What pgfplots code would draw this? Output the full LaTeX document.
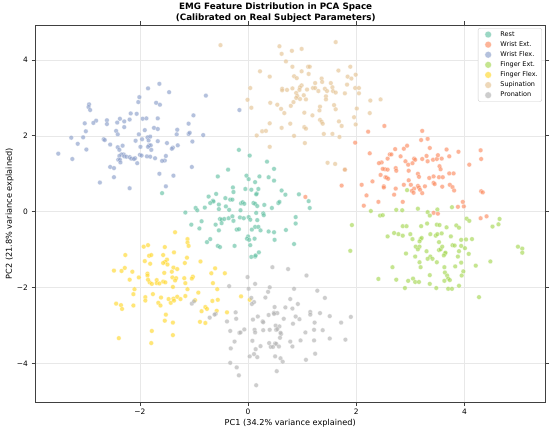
\documentclass[border=0pt]{standalone}
\usepackage{fontspec}
\setmainfont{DejaVu Sans}
\usepackage{pgfplots}
\pgfplotsset{compat=1.18}
\definecolor{cRest}{HTML}{66C2A5}
\definecolor{cWExt}{HTML}{FC8D62}
\definecolor{cWFlex}{HTML}{8DA0CB}
\definecolor{cFExt}{HTML}{A6D854}
\definecolor{cFFlex}{HTML}{FFD92F}
\definecolor{cSup}{HTML}{E5C494}
\definecolor{cPron}{HTML}{B3B3B3}
\pgfplotsset{pt/.style={only marks, mark=*, mark size=2.3bp,
  mark options={fill=#1, draw=white, line width=0.25bp, opacity=0.65}}}
\begin{document}
\begin{tikzpicture}[x=1bp,y=1bp]
\useasboundingbox (0,0) rectangle (550,432);
\fill[white] (0,0) rectangle (550,432);
\begin{axis}[
  at={(35bp,29.7bp)}, anchor=south west,
  scale only axis, width=510.5bp, height=377.3bp,
  xmin=-3.94, xmax=5.50, ymin=-5.02, ymax=4.92,
  xtick={-2,0,2,4}, xticklabels={−2,0,2,4},
  ytick={-4,-2,0,2,4}, yticklabels={−4,−2,0,2,4},
  grid=major, major grid style={black!9, line width=0.6bp},
  axis line style={black!75, line width=0.8bp},
  tick align=outside, major tick length=3.5bp,
  tick style={black!75, line width=0.8bp},
  ticklabel style={font=\fontsize{7.5}{9}\selectfont},
  legend style={at={(0.993,0.992)}, anchor=north east, draw=black!20,
    rounded corners=2bp, font=\fontsize{6.5}{7.5}\selectfont,
    inner xsep=3.5bp, inner ysep=1.3bp, row sep=0pt,
    nodes={inner sep=0.5bp}},
  legend cell align=left,
  legend image code/.code={
    \draw[#1, mark size=3.3bp] plot coordinates {(0bp,0bp)};
    \path[draw=none, fill=none] (-6.5bp,-5.05bp) (11.8bp,5.05bp);
  },
]
% Rest
\addplot[pt=cRest] coordinates {
(-0.17,1.63) (0.03,1.48) (0.35,1.32) (-0.37,1.11) (-0.56,0.93) (-0.03,0.95) (0.01,0.86) (0.21,0.93)
(0.38,0.91) (0.48,1.13) (0.48,0.82) (0.13,0.78) (-0.28,0.64) (-0.27,0.52) (-0.05,0.60) (0.06,0.58)
(0.19,0.60) (0.16,0.48) (0.15,0.46) (0.62,0.56) (0.69,0.45) (0.94,0.46) (1.12,0.28) (1.14,0.10)
(-0.59,0.47) (-0.73,0.40) (-0.65,0.29) (-0.64,0.27) (-0.70,0.23) (-0.54,0.19) (-0.42,0.36) (-0.33,0.32)
(-0.29,0.32) (-0.13,0.22) (-0.10,0.25) (-0.07,0.21) (0.10,0.23) (0.13,0.21) (0.17,0.15) (0.30,0.18)
(0.44,0.10) (0.56,0.23) (0.58,0.26) (-0.80,0.11) (-0.97,0.10) (-0.94,0.04) (-1.16,-0.02) (-0.54,0.07)
(-0.41,0.14) (-0.35,0.05) (-0.14,0.04) (0.15,-0.03) (0.28,-0.04) (0.29,-0.09) (-0.52,-0.19) (-0.49,-0.21)
(-0.44,-0.19) (-0.36,-0.17) (-0.29,-0.12) (-0.27,-0.24) (-0.15,-0.15) (-0.08,-0.17) (0.01,-0.14) (0.04,-0.21)
(0.17,-0.22) (0.88,-0.14) (0.88,-0.31) (-0.86,-0.25) (-1.05,-0.34) (-0.60,-0.34) (-0.49,-0.30) (0.13,-0.40)
(0.19,-0.40) (-0.90,-0.44) (-0.54,-0.49) (-0.21,-0.47) (-0.17,-0.46) (0.07,-0.47) (0.23,-0.49) (0.38,-0.52)
(0.48,-0.54) (0.70,-0.48) (-0.70,-0.72) (-0.76,-0.80) (0.00,-0.65) (-0.02,-0.71) (0.02,-0.74) (0.12,-0.71)
(0.49,-0.74) (-0.56,-0.90) (-0.52,-0.93) (-0.25,-0.90) (0.04,-0.88) (0.85,-0.85) (0.20,-1.07) (0.06,-1.19)
(0.13,-1.18) (0.14,-1.15) (-1.59,0.49)
};
\addlegendentry{Rest}
% Wrist Ext.
\addplot[pt=cWExt] coordinates {
(2.52,2.26) (3.22,2.13) (2.22,2.11) (3.20,1.89) (3.32,1.92) (1.98,1.82) (2.94,1.74) (2.88,1.66)
(2.72,1.65) (3.36,1.68) (3.67,1.64) (3.89,1.58) (4.30,1.62) (4.31,1.39) (2.25,1.54) (2.62,1.51)
(2.65,1.51) (2.82,1.46) (2.58,1.40) (3.07,1.40) (3.09,1.37) (2.91,1.33) (2.96,1.24) (3.04,1.28)
(3.30,1.47) (3.22,1.39) (3.32,1.33) (3.42,1.37) (3.49,1.39) (3.51,1.49) (3.58,1.40) (3.72,1.46)
(3.54,1.20) (3.56,1.12) (4.09,1.24) (2.47,1.30) (2.42,1.28) (2.53,1.12) (2.49,1.13) (2.58,1.11)
(2.73,1.15) (2.74,1.08) (1.79,1.11) (2.45,0.97) (2.54,0.91) (2.56,0.90) (2.59,0.87) (2.97,1.08)
(2.97,0.83) (3.14,1.00) (3.16,0.92) (3.35,0.89) (3.43,0.93) (3.53,0.91) (3.60,0.91) (3.72,1.01)
(3.80,1.01) (2.30,0.80) (1.73,0.69) (2.10,0.71) (2.51,0.67) (2.51,0.64) (2.73,0.61) (2.88,0.71)
(3.01,0.71) (3.07,0.61) (3.14,0.68) (3.16,0.64) (3.18,0.58) (3.27,0.67) (3.43,0.76) (3.45,0.73)
(3.59,0.66) (3.73,0.71) (3.78,0.65) (3.81,0.56) (4.31,0.54) (4.34,0.51) (3.03,0.55) (3.06,0.50)
(3.22,0.49) (2.19,0.43) (2.86,0.26) (2.41,0.26) (2.14,0.16) (3.97,0.26) (3.99,0.14) (3.88,0.13)
(3.43,-0.03) (3.51,-0.05) (4.30,-0.17) (4.41,-0.12) (1.06,0.39) (2.70,0.45)
};
\addlegendentry{Wrist Ext.}
% Wrist Flex.
\addplot[pt=cWFlex] coordinates {
(-1.64,3.37) (-1.85,3.25) (-1.46,3.15) (-0.78,3.06) (-2.94,2.83) (-2.95,2.76) (-2.92,2.68) (-2.01,3.02)
(-2.03,2.89) (-1.70,2.87) (-1.63,2.82) (-2.17,2.59) (-2.06,2.58) (-2.37,2.45) (-2.19,2.43) (-2.29,2.38)
(-2.42,2.35) (-2.61,2.41) (-2.81,2.40) (-2.86,2.34) (-3.02,2.33) (-1.95,2.45) (-1.88,2.46) (-1.67,2.46)
(-1.01,2.54) (-1.10,2.32) (-2.61,2.31) (-2.44,2.13) (-2.29,2.23) (-2.41,2.04) (-3.00,2.12) (-3.05,1.96)
(-3.27,1.95) (-3.15,1.79) (-2.99,1.64) (-3.51,1.53) (-3.25,1.39) (-2.67,1.91) (-2.65,1.89) (-2.55,1.77)
(-2.41,1.70) (-2.32,1.74) (-2.38,1.63) (-2.02,2.04) (-2.08,1.87) (-1.96,1.91) (-1.91,2.15) (-1.74,2.21)
(-1.67,2.18) (-1.86,1.96) (-1.81,1.98) (-1.84,1.88) (-1.83,1.75) (-1.80,1.75) (-1.79,1.63) (-1.85,1.71)
(-1.31,2.16) (-1.32,2.04) (-1.10,2.05) (-1.08,2.08) (-0.83,2.02) (-1.03,1.85) (-1.30,1.75) (-1.39,1.69)
(-1.41,1.66) (-1.50,1.81) (-1.67,1.86) (-1.99,1.71) (-2.30,1.51) (-2.34,1.51) (-2.38,1.47) (-2.40,1.37)
(-2.29,1.46) (-2.25,1.45) (-2.19,1.44) (-2.16,1.40) (-2.09,1.41) (-2.05,1.28) (-2.11,1.39) (-2.00,1.50)
(-1.97,1.48) (-1.87,1.46) (-1.81,1.45) (-1.72,1.41) (-1.52,1.47) (-1.54,1.35) (-1.59,1.34) (-2.55,1.18)
(-2.48,1.15) (-2.37,1.37) (-2.36,1.30) (-1.04,1.18) (-1.64,1.00) (-1.38,0.95) (-2.48,0.91) (-2.74,0.77)
(-2.19,0.62) (-1.52,0.67) (-0.16,2.68)
};
\addlegendentry{Wrist Flex.}
% Finger Ext.
\addplot[pt=cFExt] coordinates {
(2.94,0.57) (2.27,0.02) (2.74,0.05) (2.85,0.04) (3.14,0.08) (3.32,-0.01) (3.50,0.06) (3.77,0.12)
(2.44,-0.10) (2.49,-0.09) (3.36,-0.10) (4.04,-0.18) (4.09,-0.24) (4.65,-0.19) (4.63,-0.33) (4.52,-0.39)
(1.92,-0.35) (2.86,-0.38) (2.93,-0.38) (3.20,-0.38) (3.31,-0.31) (3.49,-0.34) (3.54,-0.35) (3.67,-0.41)
(3.85,-0.36) (3.90,-0.42) (2.70,-0.56) (2.78,-0.59) (2.58,-0.65) (2.86,-0.63) (3.00,-0.59) (3.37,-0.59)
(3.47,-0.63) (3.50,-0.59) (3.58,-0.57) (3.75,-0.65) (3.04,-0.72) (3.19,-0.72) (3.21,-0.69) (3.17,-0.78)
(3.53,-0.80) (3.94,-0.74) (4.03,-0.73) (4.14,-0.72) (3.10,-0.92) (3.17,-0.92) (3.14,-0.99) (3.30,-1.04)
(3.53,-1.01) (3.56,-0.99) (3.59,-0.92) (3.78,-0.88) (3.82,-0.89) (3.94,-0.90) (4.01,-0.96) (3.90,-1.04)
(1.89,-1.03) (2.92,-1.10) (3.09,-1.18) (3.37,-1.18) (3.32,-1.24) (3.41,-1.24) (3.64,-1.10) (3.65,-1.08)
(3.62,-1.15) (3.88,-1.18) (4.08,-1.11) (4.99,-0.92) (5.07,-0.97) (5.07,-1.08) (3.17,-1.33) (3.49,-1.33)
(3.94,-1.34) (4.48,-1.31) (2.67,-1.46) (3.19,-1.46) (3.63,-1.46) (3.83,-1.44) (4.21,-1.42) (3.36,-1.67)
(3.64,-1.60) (3.68,-1.68) (3.70,-1.76) (3.98,-1.57) (3.95,-1.68) (2.41,-1.77) (2.74,-1.79) (2.96,-1.82)
(3.05,-1.76) (3.09,-1.85) (3.16,-1.85) (3.63,-1.82) (3.73,-1.80) (3.36,-1.90) (2.90,-2.01) (3.48,-2.01)
(3.90,-1.95) (3.70,-2.03) (3.77,-2.03) (4.27,-2.25)
};
\addlegendentry{Finger Ext.}
% Finger Flex.
\addplot[pt=cFFlex] coordinates {
(-1.35,-0.54) (-1.12,-0.72) (-1.12,-0.81) (-1.10,-0.90) (-1.93,-0.92) (-1.85,-0.88) (-1.54,-0.93) (-1.37,-1.07)
(-2.27,-1.14) (-1.83,-1.16) (-1.79,-1.14) (-1.57,-1.14) (-1.13,-1.21) (-1.91,-1.30) (-1.81,-1.37) (-1.50,-1.26)
(-1.53,-1.32) (-1.57,-1.35) (-1.49,-1.39) (-1.17,-1.35) (-0.88,-1.31) (-2.48,-1.55) (-2.34,-1.56) (-2.28,-1.48)
(-2.14,-1.58) (-1.38,-1.47) (-1.31,-1.51) (-1.86,-1.63) (-1.86,-1.68) (-1.55,-1.61) (-1.41,-1.58) (-0.61,-1.49)
(-0.43,-1.62) (-0.68,-1.62) (-2.02,-1.73) (-2.19,-1.79) (-1.82,-1.86) (-1.85,-1.79) (-1.69,-1.80) (-1.69,-1.88)
(-1.64,-1.89) (-1.57,-1.84) (-1.53,-1.86) (-1.40,-1.73) (-1.33,-1.75) (-1.35,-1.81) (-1.18,-1.75) (-1.02,-1.71)
(-1.04,-1.76) (-1.78,-1.90) (-1.39,-1.98) (-1.16,-1.88) (-0.65,-1.88) (-1.12,-2.04) (-2.10,-2.04) (-2.12,-2.17)
(-1.76,-2.17) (-1.90,-2.25) (-1.90,-2.34) (-1.61,-2.26) (-1.47,-2.30) (-1.38,-2.29) (-1.31,-2.24) (-1.25,-2.30)
(-1.16,-2.22) (-1.43,-2.40) (-1.37,-2.34) (-1.66,-2.40) (-1.62,-2.47) (-0.92,-2.13) (-0.57,-2.04) (-0.98,-2.33)
(-0.66,-2.35) (-0.56,-2.32) (-0.13,-2.23) (0.03,-2.32) (-2.44,-2.42) (-2.35,-2.46) (-2.33,-2.56) (-2.12,-2.47)
(-0.79,-2.51) (-0.76,-2.56) (-0.86,-2.62) (-0.58,-2.61) (-0.39,-2.65) (-1.52,-2.71) (-1.54,-2.87) (-1.39,-2.92)
(-0.89,-2.90) (-0.79,-2.93) (-1.78,-3.14) (-1.39,-3.25) (-2.39,-3.33) (-1.79,-3.46)
};
\addlegendentry{Finger Flex.}
% Supination
\addplot[pt=cSup] coordinates {
(-0.51,4.39) (0.58,4.36) (0.62,4.16) (0.81,4.24) (0.99,4.29) (1.62,4.47) (0.70,3.96) (0.82,3.82)
(1.11,3.82) (1.14,3.82) (0.99,3.70) (1.12,3.63) (0.22,3.70) (0.40,3.56) (0.85,3.57) (0.90,3.52)
(1.67,3.72) (1.89,3.82) (1.99,3.61) (1.84,3.56) (1.91,3.51) (1.36,3.51) (1.37,3.42) (1.24,3.39)
(1.53,3.39) (1.56,3.28) (1.83,3.35) (0.99,3.33) (0.96,3.28) (0.04,3.26) (0.63,3.24) (0.72,3.21)
(0.82,3.25) (0.63,3.20) (0.89,3.13) (0.95,3.21) (1.09,3.22) (1.20,3.26) (1.24,3.26) (1.30,3.18)
(1.42,3.24) (1.46,3.18) (1.57,3.18) (1.62,3.14) (1.79,3.12) (1.98,3.26) (2.05,3.26) (2.05,3.12)
(0.91,3.05) (0.89,3.00) (0.96,2.97) (1.03,3.07) (1.07,2.96) (1.44,3.04) (1.44,2.96) (-0.01,2.95)
(2.26,2.93) (2.45,2.96) (0.06,2.74) (0.41,2.87) (0.54,2.82) (0.84,2.89) (0.79,2.79) (0.61,2.71)
(0.67,2.60) (1.04,2.61) (1.19,2.54) (1.33,2.77) (1.32,2.67) (1.59,2.81) (1.62,2.70) (2.01,2.72)
(1.96,2.49) (2.25,2.60) (1.33,2.42) (1.36,2.37) (1.38,2.32) (1.68,2.38) (1.73,2.26) (1.99,2.30)
(0.40,2.33) (0.62,2.21) (0.78,2.32) (1.04,2.23) (1.07,2.19) (0.26,2.12) (0.33,2.13) (0.16,2.01)
(0.85,2.00) (1.40,2.05) (1.56,2.05) (1.69,1.97) (0.40,1.71) (1.05,1.81) (1.47,1.29) (1.61,1.26)
(1.79,1.11)
};
\addlegendentry{Supination}
% Pronation
\addplot[pt=cPron] coordinates {
(0.45,-1.46) (0.74,-1.51) (1.08,-1.68) (-0.01,-1.72) (-0.35,-1.96) (0.13,-1.90) (0.40,-1.99) (0.01,-2.03)
(0.85,-2.03) (1.28,-2.08) (0.37,-2.11) (0.32,-2.26) (0.06,-2.27) (0.11,-2.38) (0.07,-2.43) (0.78,-2.30)
(1.42,-2.27) (0.92,-2.43) (0.49,-2.51) (0.69,-2.52) (0.82,-2.55) (-0.23,-2.65) (-0.60,-2.69) (-0.71,-2.79)
(0.48,-2.66) (0.54,-2.67) (0.48,-2.69) (0.38,-2.72) (1.15,-2.64) (1.15,-2.71) (1.33,-2.67) (1.51,-2.75)
(1.90,-2.77) (1.72,-2.92) (0.88,-2.76) (0.95,-2.83) (1.23,-2.92) (-0.22,-2.82) (0.18,-2.76) (0.09,-2.84)
(0.27,-2.89) (0.28,-2.91) (0.66,-2.82) (-0.39,-2.89) (0.51,-3.00) (0.58,-3.02) (0.83,-2.95) (-0.07,-3.10)
(-0.33,-3.14) (-0.16,-3.19) (-0.14,-3.18) (0.12,-3.11) (0.13,-3.18) (0.28,-3.12) (0.40,-3.11) (0.52,-3.11)
(0.54,-3.09) (0.61,-3.22) (0.60,-3.19) (1.06,-3.18) (1.22,-3.11) (1.38,-3.12) (0.59,-3.32) (0.08,-3.40)
(0.39,-3.46) (0.50,-3.47) (0.52,-3.48) (0.78,-3.42) (0.97,-3.39) (1.22,-3.39) (1.51,-3.34) (1.80,-3.37)
(-0.25,-3.42) (0.23,-3.54) (0.42,-3.56) (0.46,-3.56) (0.57,-3.55) (0.82,-3.55) (-0.32,-3.60) (0.14,-3.62)
(0.03,-3.81) (0.11,-3.75) (0.17,-3.83) (0.50,-3.81) (0.60,-3.86) (0.64,-3.95) (1.07,-3.90) (1.24,-3.74)
(-0.33,-3.98) (-0.21,-4.10) (0.53,-4.20) (-0.17,-4.31) (0.15,-4.57) (-1.04,-2.42) (-1.00,-2.36) (-0.62,-2.71)
};
\addlegendentry{Pronation}
\end{axis}
\node[font=\fontsize{8.8}{10.6}\selectfont\bfseries, align=center] at (275.7,419.5)
  {EMG Feature Distribution in PCA Space\\(Calibrated on Real Subject Parameters)};
\node[font=\fontsize{8.2}{9.8}\selectfont] at (290.2,8.7) {PC1 (34.2\% variance explained)};
\node[font=\fontsize{8.2}{9.8}\selectfont, rotate=90] at (9.5,218.3) {PC2 (21.8\% variance explained)};
\end{tikzpicture}
\end{document}
